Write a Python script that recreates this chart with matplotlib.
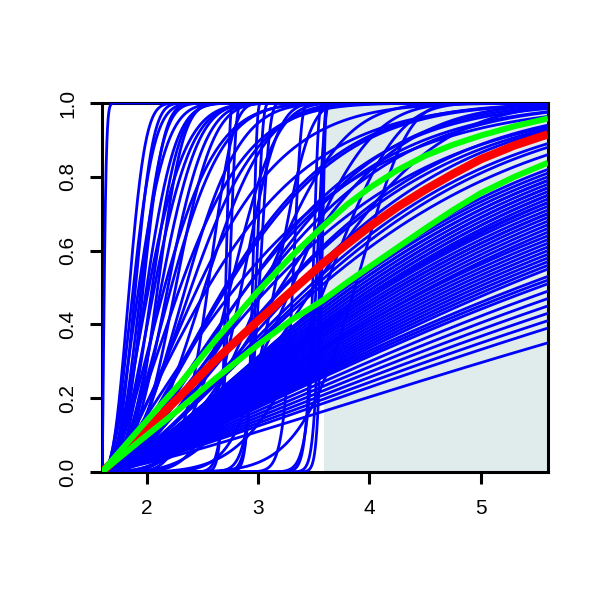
import numpy as np
import matplotlib
matplotlib.use("Agg")
import matplotlib.pyplot as plt
from matplotlib.patches import Rectangle

plt.rcParams['font.family'] = ['Liberation Sans', 'DejaVu Sans']

# ---------------- data ----------------
X_START = 1.6          # all curves start here
X_END = 5.6
SHADE_FROM = 3.59      # shaded region start

# curves given by the x where they reach 0.5 and their steepness (Weibull shape)
early_median = [1.62, 1.845, 1.88, 1.90, 1.93, 1.95, 1.97, 2.00, 2.02, 2.05, 2.07,
                2.10, 2.13, 2.16, 2.19, 2.22, 2.26, 2.30, 2.35, 2.40, 2.46, 2.52]
early_shape = [1.5, 2.5, 2.2, 2.8, 2.0, 2.6, 3.0, 2.3, 1.9, 2.7, 2.1,
               3.2, 2.4, 1.8, 2.6, 2.0, 2.9, 1.7, 2.3, 2.0, 1.6, 2.5]

mid_median = [2.55, 2.70, 2.80, 2.90, 3.00, 3.10, 3.20, 3.35, 3.50, 3.30, 3.60,
              3.87, 2.75, 2.85, 3.15, 2.55, 3.05]
mid_shape = [1.4, 1.6, 1.3, 1.5, 1.8, 1.4, 2.2, 1.6, 2.5, 3.5, 4.5,
             6.8, 4.0, 5.5, 7.0, 6.0, 3.0]

step_median = [2.71, 2.74, 2.95, 2.98, 3.01, 3.31, 3.49, 3.52, 3.55, 3.57]
step_shape = [40, 25, 45, 30, 20, 30, 50, 35, 60, 80]

# slowly rising curves given by their value at the right edge
fan_end = [0.35, 0.39, 0.41, 0.43, 0.45, 0.47, 0.49, 0.51, 0.52, 0.53,
           0.55, 0.56, 0.57, 0.58, 0.59, 0.60, 0.61, 0.62, 0.63, 0.64,
           0.65, 0.66, 0.67, 0.68, 0.69, 0.70, 0.70, 0.71, 0.72, 0.73,
           0.73, 0.74, 0.75, 0.75, 0.76, 0.77, 0.77, 0.78, 0.79, 0.79,
           0.80, 0.81, 0.82, 0.86, 0.88, 0.89, 0.93, 0.94, 0.975, 0.985,
           0.995]
fan_shape = [1.25] * 10 + [1.3] * 10 + [1.35] * 10 + [1.4] * 10 + \
            [1.4, 1.42, 1.45, 1.45, 1.5, 1.5, 1.5, 1.55, 1.6, 1.6, 1.6]

# summary curves (red = middle, green = bounds)
pts_x = [1.6, 1.93, 2.3, 2.625, 3.0, 3.3, 3.58, 3.8, 4.0, 4.25, 4.5, 4.75, 5.0, 5.3, 5.6]
red_y = [0.0, 0.095, 0.205, 0.305, 0.41, 0.49, 0.565, 0.618, 0.665, 0.718, 0.765,
         0.808, 0.848, 0.885, 0.915]
green_hi_y = [0.0, 0.115, 0.24, 0.36, 0.49, 0.585, 0.665, 0.725, 0.77, 0.818, 0.857,
              0.887, 0.912, 0.937, 0.958]
green_lo_y = [0.0, 0.082, 0.172, 0.255, 0.345, 0.412, 0.465, 0.514, 0.556, 0.608, 0.66,
              0.71, 0.756, 0.8, 0.838]

y_ticks = [0.0, 0.2, 0.4, 0.6, 0.8, 1.0]
x_ticks = [2, 3, 4, 5]

# ---------------- drawing ----------------
def cdf(x, scale, shape):
    d = np.clip(x - X_START, 0, None)
    return 1.0 - np.exp(-(d / scale) ** shape)

fig = plt.figure(figsize=(6, 6), dpi=100)
ax = fig.add_axes([0.17, 0.2133, 0.743, 0.615])

ax.add_patch(Rectangle((SHADE_FROM, 0), X_END - SHADE_FROM, 1.0,
                       facecolor='#E0ECEC', edgecolor='none', zorder=1))

xs = np.linspace(X_START, X_END, 3000)
blue = '#0000FF'
lw_blue = 2.0

for m, k in zip(early_median + mid_median + step_median,
                early_shape + mid_shape + step_shape):
    s = (m - X_START) / np.log(2) ** (1.0 / k)
    ax.plot(xs, cdf(xs, s, k), color=blue, lw=lw_blue, zorder=3)

for e, k in zip(fan_end, fan_shape):
    s = (X_END - X_START) / (-np.log(1 - e)) ** (1.0 / k)
    ax.plot(xs, cdf(xs, s, k), color=blue, lw=lw_blue, zorder=3)

ax.plot(pts_x, red_y, color='#FF0000', lw=6, zorder=4,
        solid_capstyle='butt', solid_joinstyle='round')
ax.plot(pts_x, green_hi_y, color='#00FF00', lw=4.3, zorder=5,
        solid_capstyle='butt', solid_joinstyle='round')
ax.plot(pts_x, green_lo_y, color='#00FF00', lw=4.3, zorder=5,
        solid_capstyle='butt', solid_joinstyle='round')

ax.set_xlim(X_START, X_END)
ax.set_ylim(0, 1)
ax.set_xticks(x_ticks)
ax.set_xticklabels([str(v) for v in x_ticks])
ax.set_yticks(y_ticks)
ax.set_yticklabels(['%.1f' % v for v in y_ticks], rotation=90, va='center')

for sp in ax.spines.values():
    sp.set_linewidth(2.2)
    sp.set_color('black')
    sp.set_zorder(2.5)

ax.tick_params(axis='both', direction='out', length=8.6, width=2.2,
               labelsize=15, colors='black')
ax.tick_params(axis='x', pad=11)
ax.tick_params(axis='y', pad=9)

fig.savefig('out.png', dpi=100)
